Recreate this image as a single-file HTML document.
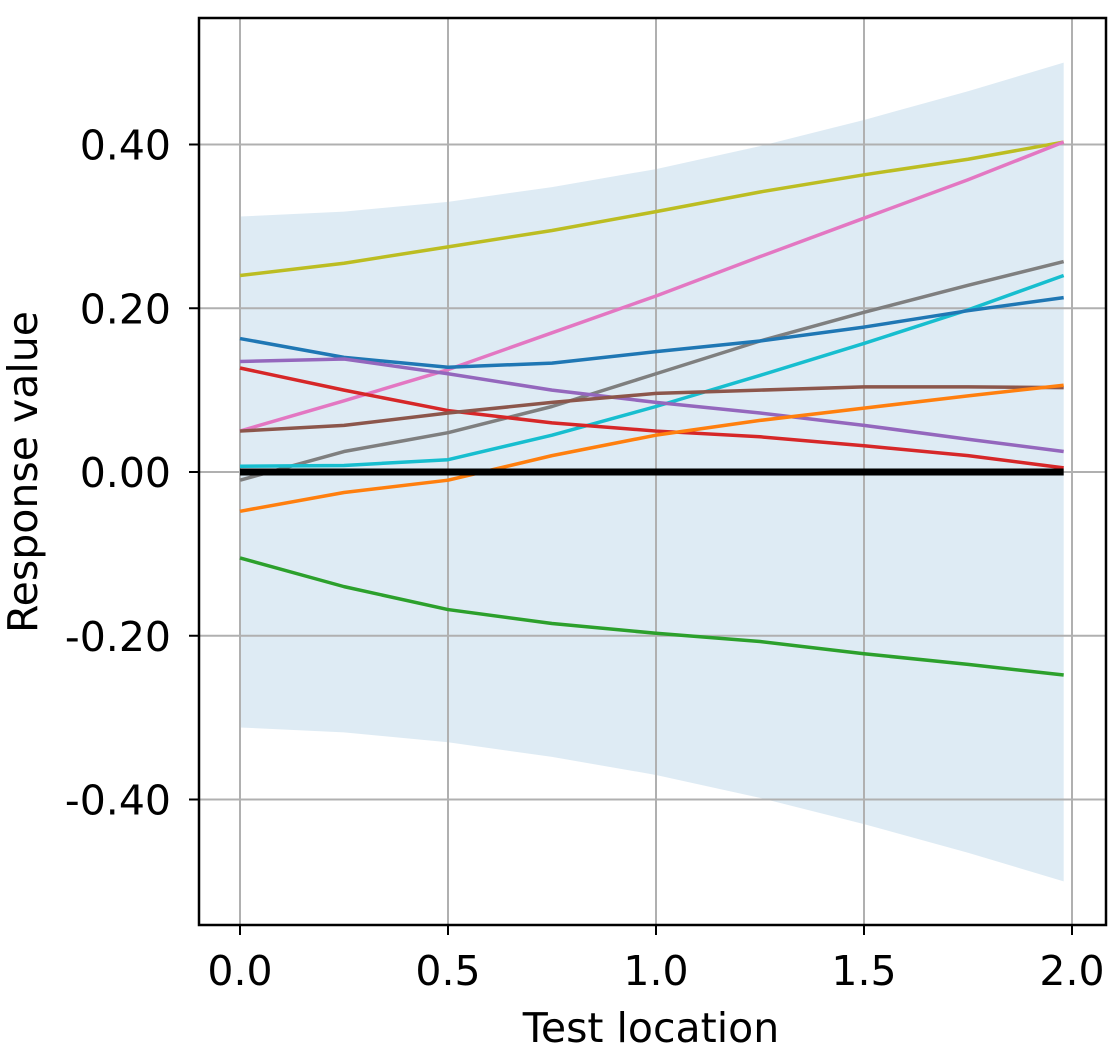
<!DOCTYPE html>
<html><head><meta charset="utf-8"><style>
body{margin:0;background:#fff;}
svg text{font-family:"DejaVu Sans","Liberation Sans",sans-serif;fill:#000;}
</style></head><body>
<svg id="chart" width="1119" height="1057" xmlns="http://www.w3.org/2000/svg">
<g id="plot"></g>
</svg>
<script>
const xs = [0, 0.25, 0.5, 0.75, 1.0, 1.25, 1.5, 1.75, 1.98];
const bandUpper = [0.312, 0.318, 0.33, 0.348, 0.37, 0.398, 0.43, 0.465, 0.50];
const bandLower = [-0.312, -0.318, -0.33, -0.348, -0.37, -0.398, -0.43, -0.465, -0.50];
const olive = [0.24, 0.255, 0.275, 0.295, 0.318, 0.342, 0.363, 0.382, 0.403];
const pink = [0.05, 0.087, 0.125, 0.17, 0.215, 0.263, 0.31, 0.357, 0.403];
const gray = [-0.01, 0.025, 0.048, 0.08, 0.12, 0.16, 0.195, 0.228, 0.257];
const cyan = [0.007, 0.008, 0.015, 0.045, 0.08, 0.118, 0.157, 0.198, 0.24];
const blue = [0.163, 0.14, 0.128, 0.133, 0.147, 0.16, 0.177, 0.197, 0.213];
const purple = [0.135, 0.138, 0.12, 0.1, 0.085, 0.072, 0.057, 0.04, 0.025];
const red = [0.127, 0.1, 0.075, 0.06, 0.05, 0.043, 0.032, 0.02, 0.005];
const brown = [0.05, 0.057, 0.072, 0.085, 0.096, 0.1, 0.104, 0.104, 0.103];
const orange = [-0.048, -0.025, -0.01, 0.02, 0.045, 0.063, 0.078, 0.093, 0.106];
const green = [-0.105, -0.14, -0.168, -0.185, -0.197, -0.207, -0.222, -0.235, -0.248];
const zero = [0, 0, 0, 0, 0, 0, 0, 0, 0];
const xTicks = [0, 0.5, 1.0, 1.5, 2.0];
const xTickLabels = ["0.0", "0.5", "1.0", "1.5", "2.0"];
const yTicks = [0.4, 0.2, 0, -0.2, -0.4];
const yTickLabels = ["0.40", "0.20", "0.00", "-0.20", "-0.40"];

const X = v => 240 + v * 416;
const Y = v => 472 - v * 818.75;
const NS = "http://www.w3.org/2000/svg";
const g = document.getElementById('plot');
function mk(tag, attrs, parent) {
  const e = document.createElementNS(NS, tag);
  for (const k in attrs) e.setAttribute(k, attrs[k]);
  (parent || g).appendChild(e);
  return e;
}
let d = xs.map((x, i) => (i ? 'L' : 'M') + X(x) + ',' + Y(bandUpper[i])).join('');
for (let i = xs.length - 1; i >= 0; i--) d += 'L' + X(xs[i]) + ',' + Y(bandLower[i]);
const band = mk('path', {d: d + 'Z', fill: '#1f77b4', 'fill-opacity': 0.15});


xTicks.forEach((t, i) => {
  const l = mk('line', {x1: X(t), x2: X(t), y1: 18, y2: 925, stroke: '#b0b0b0', 'stroke-width': 2});
  
  
  mk('line', {x1: X(t), x2: X(t), y1: 925, y2: 935, stroke: '#000', 'stroke-width': 2});
  const tx = mk('text', {x: X(t), y: 985, 'font-size': 41, 'text-anchor': 'middle'});
  tx.textContent = xTickLabels[i];
  
  
});
yTicks.forEach((t, i) => {
  const l = mk('line', {x1: 199, x2: 1106, y1: Y(t), y2: Y(t), stroke: '#b0b0b0', 'stroke-width': 2});
  
  
  mk('line', {x1: 189, x2: 199, y1: Y(t), y2: Y(t), stroke: '#000', 'stroke-width': 2});
  const tx = mk('text', {x: 171, y: Y(t) + 15, 'font-size': 41, 'text-anchor': 'end'});
  tx.textContent = yTickLabels[i];
  
  
});
const series = [
  ['olive-line', olive, '#bcbd22', 3.5], ['pink-line', pink, '#e377c2', 3.5],
  ['gray-line', gray, '#7f7f7f', 3.5], ['cyan-line', cyan, '#17becf', 3.5],
  ['blue-line', blue, '#1f77b4', 3.5], ['purple-line', purple, '#9467bd', 3.5],
  ['red-line', red, '#d62728', 3.5], ['brown-line', brown, '#8c564b', 3.5],
  ['orange-line', orange, '#ff7f0e', 3.5], ['green-line', green, '#2ca02c', 3.5],
  ['zero-line', zero, '#000', 7]
];
series.forEach(s => {
  const p = mk('polyline', {points: xs.map((x, i) => X(x) + ',' + Y(s[1][i])).join(' '), fill: 'none', stroke: s[2], 'stroke-width': s[3], 'stroke-linejoin': 'round'});
  
  
});
const frame = mk('rect', {x: 199, y: 18, width: 907, height: 907, fill: 'none', stroke: '#000', 'stroke-width': 2.5});


const xt = mk('text', {x: 651, y: 1042, 'font-size': 41, 'text-anchor': 'middle'});
xt.textContent = 'Test location';


const yt = mk('text', {x: 0, y: 0, 'font-size': 41, 'text-anchor': 'middle', transform: 'translate(37,472) rotate(-90)'});
yt.textContent = 'Response value';


</script>
</body></html>
